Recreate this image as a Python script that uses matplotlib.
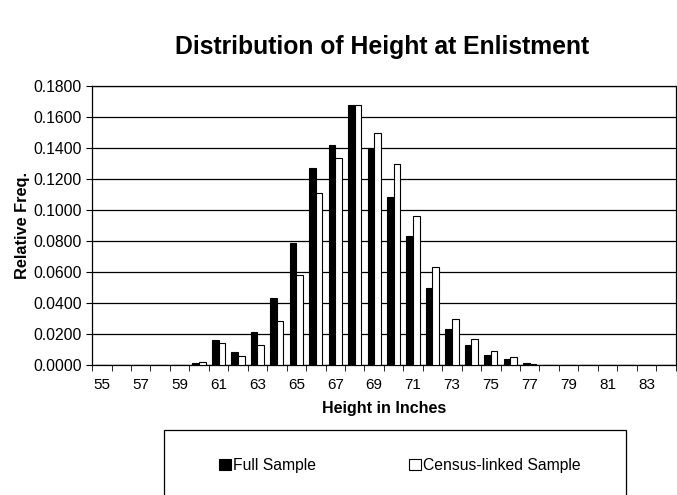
import numpy as np
import matplotlib
matplotlib.use("Agg")
import matplotlib.pyplot as plt
from matplotlib.patches import Rectangle

plt.rcParams['font.family'] = ['Liberation Sans', 'DejaVu Sans']

# heights in inches, 55 .. 84
heights = list(range(55, 85))
full_sample = [0.0, 0.0, 0.0, 0.0, 0.0003, 0.0015, 0.0160, 0.0085, 0.0215, 0.0430,
               0.0785, 0.1270, 0.1420, 0.1675, 0.1395, 0.1085, 0.0830, 0.0495, 0.0235, 0.0130,
               0.0065, 0.0040, 0.0010, 0.0003, 0.0002, 0.0001, 0.0001, 0.0001, 0.0001, 0.0]
census_linked = [0.0, 0.0, 0.0, 0.0, 0.0003, 0.0020, 0.0145, 0.0060, 0.0130, 0.0285,
                 0.0580, 0.1110, 0.1335, 0.1680, 0.1500, 0.1300, 0.0960, 0.0630, 0.0300, 0.0170,
                 0.0090, 0.0050, 0.0008, 0.0002, 0.0, 0.0, 0.0, 0.0, 0.0, 0.0]
labels = [str(h) if h % 2 == 1 else "" for h in heights]

fig = plt.figure(figsize=(6.77, 4.95), dpi=100)
ax = fig.add_axes([0.136, 0.2626, 0.862, 0.5636])

x = np.arange(len(heights))
w = 0.34
b1 = ax.bar(x - w / 2, full_sample, w, color="black", edgecolor="black", lw=0.8,
            label="Full Sample", zorder=3)
b2 = ax.bar(x + w / 2, census_linked, w, color="white", edgecolor="black", lw=0.8,
            label="Census-linked Sample", zorder=3)

ax.set_xlim(-0.5, len(heights) - 0.5)
ax.set_ylim(0, 0.18)
ax.set_yticks(np.arange(0, 0.1801, 0.02))
ax.yaxis.set_major_formatter(matplotlib.ticker.FormatStrFormatter("%.4f"))
ax.yaxis.grid(True, color="black", lw=0.9, zorder=0)

ax.set_xticks(x)
ax.set_xticklabels(labels)
ax.set_xticks(np.arange(-0.5, len(heights), 1), minor=True)
ax.tick_params(axis="x", which="major", length=0, pad=9, labelsize=11)
ax.tick_params(axis="x", which="minor", length=4, direction="out")
ax.tick_params(axis="y", length=4, direction="out", labelsize=11.3)
for s in ax.spines.values():
    s.set_linewidth(0.9)

ax.set_xlabel("Height in Inches", fontsize=11.5, fontweight="bold", labelpad=7)
ax.set_ylabel("Relative Freq.", fontsize=11.8, fontweight="bold", labelpad=2)
fig.text(0.564, 0.905, "Distribution of Height at Enlistment", ha="center", va="center",
         fontsize=17.8, fontweight="bold")

fig.patches.append(Rectangle((0.242, -0.02), 0.682, 0.151, transform=fig.transFigure,
                             fill=False, edgecolor="black", lw=0.9))
fig.legend(handles=[b1, b2], loc="center left", bbox_to_anchor=(0.303, 0.06), ncol=2,
           frameon=False, handlelength=0.75, handleheight=0.75, handletextpad=0.15,
           columnspacing=5.9, fontsize=11.3)

fig.savefig("out.png", dpi=100)
